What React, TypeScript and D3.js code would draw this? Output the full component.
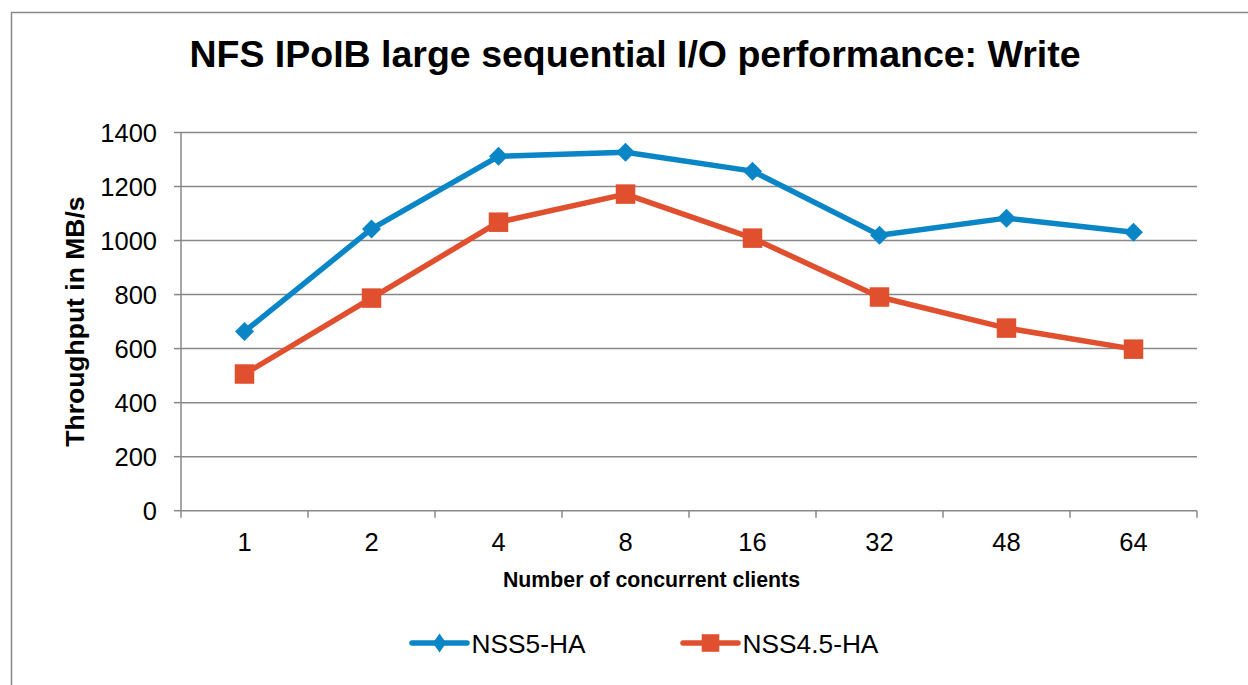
import { useEffect, useRef } from 'react';
import * as d3 from 'd3';

const clients = ['1', '2', '4', '8', '16', '32', '48', '64'];
const nss5 = [663, 1043, 1312, 1327, 1257, 1020, 1083, 1031];
const nss45 = [506, 787, 1068, 1172, 1009, 791, 676, 598];
const yTicks = [0, 200, 400, 600, 800, 1000, 1200, 1400];

const BLUE = '#0a86c6';
const RED = '#e0502f';
const FONT = '"Liberation Sans", Arial, sans-serif';

export default function App() {
  const svgRef = useRef<SVGSVGElement>(null);

  useEffect(() => {
    const svg = d3.select(svgRef.current);
    svg.selectAll('*').remove();

    const width = 1248;
    const height = 685;
    const margin = { top: 132.5, right: 51, bottom: 174.3, left: 181 };
    const innerWidth = width - margin.left - margin.right;
    const innerHeight = height - margin.top - margin.bottom;

    svg.attr('width', width).attr('height', height).style('font-family', FONT);

    // outer chart border
    svg.append('rect')
      .attr('x', 11.5).attr('y', 12.5)
      .attr('width', 1260).attr('height', 700)
      .attr('fill', '#fff').attr('stroke', '#888').attr('stroke-width', 1.5);

    const g = svg.append('g').attr('transform', `translate(${margin.left},${margin.top})`);

    const x = d3.scaleBand().domain(clients).range([0, innerWidth]);
    const y = d3.scaleLinear().domain([0, 1400]).range([innerHeight, 0]);

    // gridlines
    g.selectAll('.grid')
      .data(yTicks.filter(d => d > 0))
      .join('line')
      .attr('x1', 0).attr('x2', innerWidth)
      .attr('y1', d => y(d)).attr('y2', d => y(d))
      .attr('stroke', '#888').attr('stroke-width', 1.5);

    // y axis
    g.append('line')
      .attr('x1', 0).attr('x2', 0).attr('y1', 0).attr('y2', innerHeight)
      .attr('stroke', '#888').attr('stroke-width', 1.5);
    g.selectAll('.ytick')
      .data(yTicks)
      .join('line')
      .attr('x1', -7).attr('x2', 0)
      .attr('y1', d => y(d)).attr('y2', d => y(d))
      .attr('stroke', '#888').attr('stroke-width', 1.5);
    g.selectAll('.ylab')
      .data(yTicks)
      .join('text')
      .attr('x', -24).attr('y', d => y(d) + 9.3)
      .attr('text-anchor', 'end')
      .style('font-size', '25.5px')
      .attr('fill', '#000')
      .text(d => d);

    // x axis
    g.append('line')
      .attr('x1', 0).attr('x2', innerWidth).attr('y1', innerHeight).attr('y2', innerHeight)
      .attr('stroke', '#888').attr('stroke-width', 1.5);
    const boundaries = clients.map(c => x(c) as number).concat([innerWidth]);
    g.selectAll('.xtick')
      .data(boundaries)
      .join('line')
      .attr('x1', d => d).attr('x2', d => d)
      .attr('y1', innerHeight).attr('y2', innerHeight + 7)
      .attr('stroke', '#888').attr('stroke-width', 1.5);
    g.selectAll('.xlab')
      .data(clients)
      .join('text')
      .attr('x', d => (x(d) as number) + x.bandwidth() / 2)
      .attr('y', innerHeight + 40.5)
      .attr('text-anchor', 'middle')
      .style('font-size', '25.5px')
      .text(d => d);

    const cx = (d: string) => (x(d) as number) + x.bandwidth() / 2;
    const series = [
      { name: 'NSS5-HA', values: nss5, color: BLUE, marker: 'diamond' },
      { name: 'NSS4.5-HA', values: nss45, color: RED, marker: 'square' },
    ];

    const line = d3.line<number>()
      .x((_, i) => cx(clients[i]))
      .y(d => y(d));

    const drawMarker = (sel: any, marker: string, color: string, px: number, py: number, k = 1) => {
      if (marker === 'diamond') {
        const sx = 9.5 * k;
        const sy = 9.5;
        sel.append('path')
          .attr('d', `M${px},${py - sy}L${px + sx},${py}L${px},${py + sy}L${px - sx},${py}Z`)
          .attr('fill', color);
      } else {
        const s = 19.5 * k;
        sel.append('rect')
          .attr('x', px - s / 2).attr('y', py - s / 2)
          .attr('width', s).attr('height', s)
          .attr('fill', color);
      }
    };

    series.forEach(s => {
      g.append('path')
        .datum(s.values)
        .attr('d', line)
        .attr('fill', 'none')
        .attr('stroke', s.color)
        .attr('stroke-width', 5.5)
        .attr('stroke-linejoin', 'round');
      s.values.forEach((v, i) => drawMarker(g, s.marker, s.color, cx(clients[i]), y(v)));
    });

    // title
    svg.append('text')
      .attr('x', 635).attr('y', 67)
      .attr('text-anchor', 'middle')
      .style('font-size', '37.5px')
      .style('font-weight', 'bold')
      .text('NFS IPoIB large sequential I/O performance: Write');

    // axis titles
    svg.append('text')
      .attr('transform', `translate(84,${margin.top + innerHeight / 2}) rotate(-90)`)
      .attr('text-anchor', 'middle')
      .style('font-size', '26.5px')
      .style('font-weight', 'bold')
      .text('Throughput in MB/s');

    svg.append('text')
      .attr('x', 651.5).attr('y', 587)
      .attr('text-anchor', 'middle')
      .style('font-size', '21.3px')
      .style('font-weight', 'bold')
      .text('Number of concurrent clients');

    // legend
    const legendItems = [
      { ...series[0], lx: 412 },
      { ...series[1], lx: 683 },
    ];
    legendItems.forEach(item => {
      const lg = svg.append('g');
      lg.append('line')
        .attr('x1', item.lx).attr('x2', item.lx + 55)
        .attr('y1', 643).attr('y2', 643)
        .attr('stroke', item.color).attr('stroke-width', 5.5)
        .attr('stroke-linecap', 'round');
      drawMarker(lg, item.marker, item.color, item.lx + 27.5, 643, item.marker === 'diamond' ? 0.7 : 0.9);
      lg.append('text')
        .attr('x', item.lx + 59.5).attr('y', 652.5)
        .style('font-size', '26.3px')
        .text(item.name);
    });
  }, []);

  return <svg ref={svgRef} style={{ position: 'absolute', left: 0, top: 0 }}></svg>;
}
